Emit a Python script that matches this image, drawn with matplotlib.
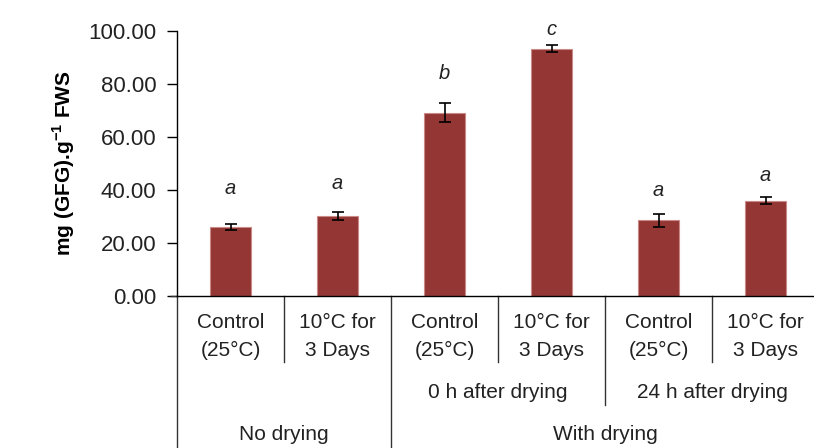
import matplotlib
matplotlib.use("Agg")
import matplotlib.pyplot as plt
import numpy as np

plt.rcParams['font.family'] = ['Liberation Sans', 'DejaVu Sans']
plt.rcParams['mathtext.fontset'] = 'custom'
plt.rcParams['mathtext.rm'] = 'Liberation Sans'
plt.rcParams['mathtext.bf'] = 'Liberation Sans:bold'

labels_top = ["Control", "10°C for", "Control", "10°C for", "Control", "10°C for"]
labels_bot = ["(25°C)", "3 Days", "(25°C)", "3 Days", "(25°C)", "3 Days"]
values = [26.0, 30.2, 69.2, 93.3, 28.5, 36.0]
errors = [1.2, 1.6, 3.5, 1.3, 2.6, 1.2]
letters = ["a", "a", "b", "c", "a", "a"]
letter_y = [40.5, 42.5, 84.0, 100.5, 40.0, 45.5]
sub_groups = [("0 h after drying", 2, 4), ("24 h after drying", 4, 6)]
main_groups = [("No drying", 0, 2), ("With drying", 2, 6)]

fig = plt.figure(figsize=(8.14, 4.48), dpi=100)
ax = fig.add_axes([177/814, 1-296/448, 642/814, 265/448])

x = np.arange(len(values)) + 0.5
ax.bar(x, values, width=0.39, color="#943634", edgecolor="#c98a88", linewidth=0.8,
       yerr=errors, capsize=4, error_kw=dict(ecolor="black", elinewidth=1.2, capthick=1.2), zorder=2)
for xi, t, ly in zip(x, letters, letter_y):
    ax.text(xi, ly, t, ha="center", va="center", fontsize=14.5, style="italic", color="#222222")

ax.set_xlim(0, 6)
ax.set_ylim(0, 100)
ax.set_yticks(np.arange(0, 101, 20))
ax.set_yticklabels([f"{v:.2f}" for v in np.arange(0, 101, 20)], fontsize=16, color="#222222")
ax.tick_params(axis="y", direction="out", length=7, width=1, pad=8)
ax.set_xticks([])
for s in ["top", "right"]:
    ax.spines[s].set_visible(False)
ax.spines["left"].set_linewidth(1)
ax.spines["bottom"].set_linewidth(1)
ax.set_ylabel("mg (GFG).g$^{\\mathbf{-1}}$ FWS", fontsize=15, fontweight="bold", labelpad=8)

tr = ax.get_xaxis_transform()
def px(p):
    return (296 - p) / 265.0
# vertical separators
ax.plot([0, 0], [0, px(448)], transform=tr, color="#333333", lw=1, clip_on=False)
for b in [1, 3, 5]:
    ax.plot([b, b], [0, px(362)], transform=tr, color="#333333", lw=1, clip_on=False)
ax.plot([4, 4], [0, px(405)], transform=tr, color="#333333", lw=1, clip_on=False)
ax.plot([2, 2], [0, px(448)], transform=tr, color="#333333", lw=1, clip_on=False)
ax.plot([-0.06, 0], [0, 0], transform=tr, color="#333333", lw=1, clip_on=False)

fs = 15
for xi, t1, t2 in zip(x, labels_top, labels_bot):
    ax.text(xi, px(323), t1, transform=tr, ha="center", va="center", fontsize=fs, color="#222222")
    ax.text(xi, px(350), t2, transform=tr, ha="center", va="center", fontsize=fs, color="#222222")
for name, a, b in sub_groups:
    ax.text((a + b) / 2, px(392), name, transform=tr, ha="center", va="center", fontsize=fs, color="#222222")
for name, a, b in main_groups:
    ax.text((a + b) / 2, px(434), name, transform=tr, ha="center", va="center", fontsize=fs, color="#222222")

fig.savefig("out.png", dpi=100)
